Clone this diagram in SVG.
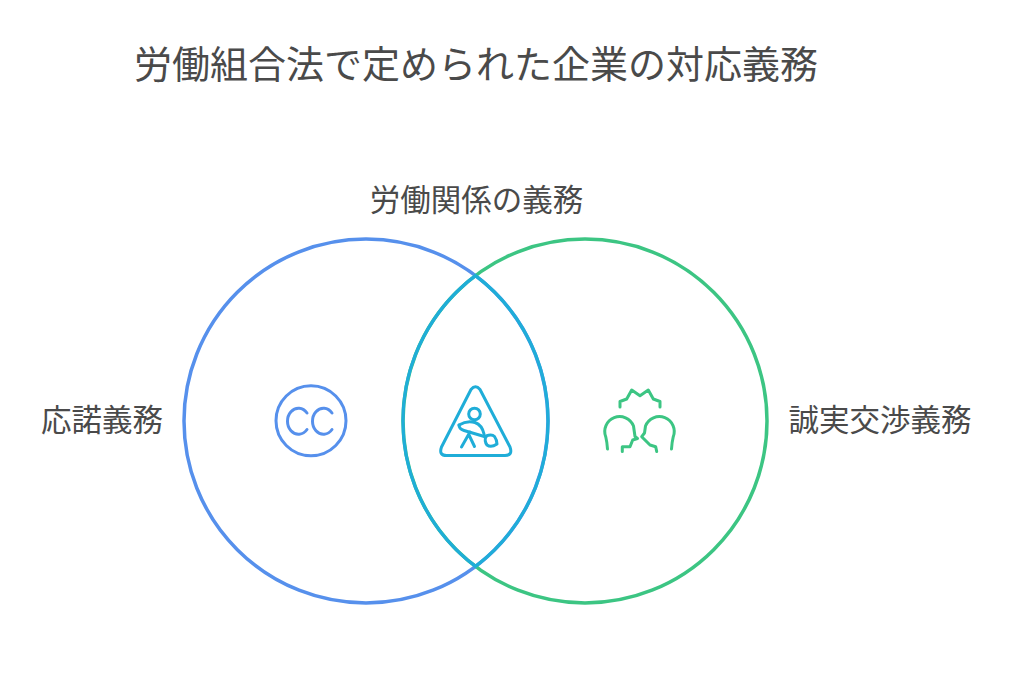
<svg xmlns="http://www.w3.org/2000/svg" width="1024" height="678" viewBox="0 0 1024 678">
<style>
text{font-family:"Noto Sans CJK JP","Noto Sans",sans-serif;fill:#4a4a4a}
.t{font-size:38px}
.l{font-size:30.500px}
.c{fill:none;stroke-width:3.500}
.i{fill:none;stroke-width:3;stroke-linecap:round;stroke-linejoin:round}
.b{stroke:#5690ec}
.g{stroke:#3cc583}
.m{stroke:#1fadd8}
</style>
<rect width="1024" height="678" fill="#fff"/>
<text class="t" x="134" y="78">労働組合法で定められた企業の対応義務</text>
<g id="connectors">
<circle id="circle-left" class="c b" cx="366" cy="421" r="182"/>
<circle id="circle-right" class="c g" cx="585" cy="421" r="182"/>
<path id="overlap" class="m" fill="none" stroke-width="3.200" d="M475.500 275.600A182 182 0 0 1 475.500 566.400A182 182 0 0 1 475.500 275.600Z"/>
</g>
<g id="node-top"><text class="l" x="476.500" y="211" text-anchor="middle">労働関係の義務</text></g>
<g id="node-left">
<text class="l" x="102" y="431" text-anchor="middle">応諾義務</text>
<g id="icon-cc" class="i b">
<circle cx="311" cy="420.700" r="35"/>
<path d="M307 413A11 13 0 1 0 307 429.500"/>
<path d="M332 413A11 13 0 1 0 332 429.500"/>
</g>
</g>
<g id="node-center">
<g id="icon-worker" class="i m">
<path d="M471 389.500Q475.500 384 480 389.500L510 447Q513 455.500 505 455.500H446.500Q438.500 455.500 441.500 447Z"/>
<circle cx="474.500" cy="414" r="5.800"/>
<path d="M459 425Q467 420 475 422.500Q482 425 484 434"/>
<path d="M459 425Q459 429 464 430.500L486 437"/>
<path d="M470 432L461.500 447M469 435L474.500 446.500"/>
<path d="M486 436Q492 434 494.500 436.500Q497 440 497 444Q491 448 487 445Q484 441 486 436Z"/>
</g>
</g>
<g id="node-right">
<text class="l" x="880" y="431" text-anchor="middle">誠実交渉義務</text>
<g id="icon-heads" class="i g">
<path d="M620 407V401.500L626.700 399L631.700 390L640 395.700L648.300 390L653.300 399L660 401.500V407"/>
<path d="M607.500 449Q607 442 605.800 437A14.500 14.500 0 1 1 633.500 426L635 436.500L637.500 438.500L632.700 440L630 446.700H622.300V451.500"/>
<path d="M671.500 449Q672 442 673.200 437A14.500 14.500 0 1 0 645.500 426L644.500 433L641.700 436.700L645 440L650 445L655.700 446.700L656.700 451.500"/>
</g>
</g>
</svg>
